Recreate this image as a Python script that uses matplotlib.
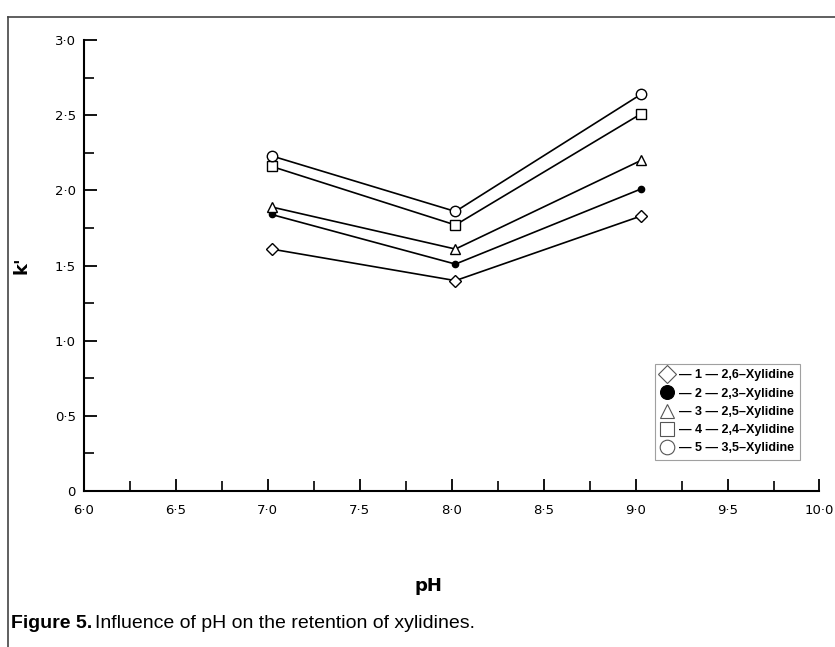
import matplotlib

matplotlib.use("Agg")
import matplotlib.pyplot as plt
from matplotlib.lines import Line2D
from matplotlib.ticker import FixedLocator, MultipleLocator

# values
ph = [7.02, 8.02, 9.03]
k_26 = [1.61, 1.40, 1.83]
k_23 = [1.84, 1.51, 2.01]
k_25 = [1.89, 1.61, 2.20]
k_24 = [2.16, 1.77, 2.51]
k_35 = [2.23, 1.86, 2.64]

series = [
    ("— 1 — 2,6–Xylidine", k_26, "D", "white", 6.5),
    ("— 2 — 2,3–Xylidine", k_23, "o", "black", 4.5),
    ("— 3 — 2,5–Xylidine", k_25, "^", "white", 7.5),
    ("— 4 — 2,4–Xylidine", k_24, "s", "white", 7),
    ("— 5 — 3,5–Xylidine", k_35, "o", "white", 7.5),
]

x_ticks = [6.0, 6.5, 7.0, 7.5, 8.0, 8.5, 9.0, 9.5, 10.0]
x_labels = ["6·0", "6·5", "7·0", "7·5", "8·0", "8·5", "9·0", "9·5", "10·0"]
y_ticks = [0, 0.5, 1.0, 1.5, 2.0, 2.5, 3.0]
y_labels = ["0", "0·5", "1·0", "1·5", "2·0", "2·5", "3·0"]

fig = plt.figure(figsize=(8.35, 6.47), dpi=100)
ax = fig.add_axes([0.1006, 0.241, 0.8808, 0.697])

for label, vals, marker, face, ms in series:
    ax.plot(ph, vals, color="black", lw=1.2, marker=marker, markersize=ms,
            markerfacecolor=face, markeredgecolor="black", markeredgewidth=1.0,
            zorder=3)

ax.set_xlim(6.0, 10.0)
ax.set_ylim(0, 3.0)
ax.xaxis.set_major_locator(FixedLocator(x_ticks))
ax.xaxis.set_minor_locator(MultipleLocator(0.25))
ax.yaxis.set_major_locator(FixedLocator(y_ticks))
ax.yaxis.set_minor_locator(MultipleLocator(0.25))
ax.set_xticklabels(x_labels)
ax.set_yticklabels(y_labels)

for side in ("top", "right"):
    ax.spines[side].set_visible(False)
for side in ("left", "bottom"):
    ax.spines[side].set_linewidth(1.5)

ax.tick_params(which="major", direction="in", length=9, width=1.3,
               labelsize=9.5, pad=9)
ax.tick_params(which="minor", direction="in", length=7, width=1.2)
ax.tick_params(axis="y", which="major", pad=6)

ax.set_xlabel("pH", fontsize=13, fontweight="bold")
ax.set_ylabel("k'", fontsize=13, fontweight="bold")
ax.xaxis.set_label_coords(0.468, -0.19)
ax.yaxis.set_label_coords(-0.073, 0.5)

handles = [
    Line2D([], [], ls="none", marker=m, markersize=s + 3, markerfacecolor=f,
           markeredgecolor="black" if f == "black" else "#555555",
           markeredgewidth=0.8)
    for _, _, m, f, s in series
]
handles[1].set_markersize(10)
leg = ax.legend(handles, [s[0] for s in series], loc="lower right",
                bbox_to_anchor=(0.982, 0.055), frameon=True, fancybox=False,
                prop={"weight": "bold", "size": 9, "family": "Liberation Sans"},
                handlelength=1.0, handletextpad=0.5, labelspacing=0.5,
                borderpad=0.45)
leg.get_frame().set_edgecolor("#888888")
leg.get_frame().set_linewidth(0.8)

# frame of the figure panel (top and left edges)
fig.add_artist(Line2D([0.0096, 1.0], [0.973, 0.973], transform=fig.transFigure,
                      color="#444444", lw=1.2))
fig.add_artist(Line2D([0.0096, 0.0096], [0.0, 0.973], transform=fig.transFigure,
                      color="#444444", lw=1.2))

cap_font = ["Liberation Sans Narrow", "Liberation Sans", "DejaVu Sans"]
t1 = fig.text(0.013, 0.037, "Figure 5.", fontsize=14, fontweight="bold",
              family=cap_font, va="center")
fig.canvas.draw()
bb = t1.get_window_extent(fig.canvas.get_renderer())
x_next = bb.x1 / fig.bbox.width + 0.004
fig.text(x_next, 0.037, "Influence of pH on the retention of xylidines.",
         fontsize=14, family=cap_font, va="center")

fig.savefig("out.png", dpi=100)
